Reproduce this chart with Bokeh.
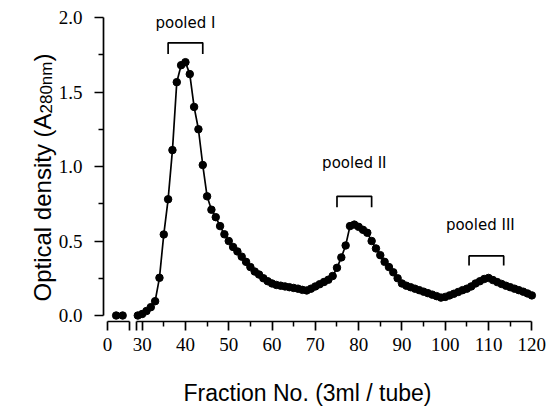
import numpy as np
from bokeh.plotting import figure
from bokeh.models import (LinearAxis, FixedTicker, PrintfTickFormatter, Label, Range1d)
from bokeh.core.properties import value
from bokeh.embed import file_html
from bokeh.resources import INLINE

# ---------------- data ----------------
fractions = [2, 3.5] + list(range(29, 121))
absorbance = [
    0.0, 0.0,                                                   # first segment
    0.0, 0.01, 0.03, 0.056, 0.096, 0.253, 0.544, 0.78, 1.11, 1.566,   # 29-38
    1.68, 1.70, 1.62, 1.40, 1.25, 1.01, 0.80, 0.71, 0.66, 0.60,       # 39-48
    0.545, 0.50, 0.46, 0.43, 0.395, 0.36, 0.325, 0.295, 0.275, 0.25,  # 49-58
    0.23, 0.215, 0.205, 0.20, 0.195, 0.19, 0.185, 0.18, 0.172, 0.168, # 59-68
    0.18, 0.195, 0.21, 0.225, 0.24, 0.265, 0.32, 0.39, 0.47, 0.60,    # 69-78
    0.61, 0.595, 0.575, 0.555, 0.50, 0.45, 0.405, 0.36, 0.325, 0.29,  # 79-88
    0.25, 0.215, 0.20, 0.19, 0.18, 0.17, 0.16, 0.15, 0.14, 0.13,      # 89-98
    0.12, 0.125, 0.135, 0.146, 0.158, 0.17, 0.18, 0.195, 0.215, 0.23, # 99-108
    0.245, 0.252, 0.238, 0.224, 0.212, 0.20, 0.19, 0.18, 0.17, 0.16,  # 109-118
    0.148, 0.135,                                               # 119-120
]
x_tick_labels = [0, 30, 40, 50, 60, 70, 80, 90, 100, 110, 120]
x_minor_labels = [35, 45, 55, 65, 75, 85, 95, 105, 115]
y_ticks = [0.0, 0.5, 1.0, 1.5, 2.0]
y_minor = [0.25, 0.75, 1.25, 1.75]

pool_names = ["pooled I", "pooled II", "pooled III"]
pool_start = [36, 75, 105.5]
pool_end = [44, 83, 113.5]
pool_top = [1.83, 0.80, 0.40]
pool_leg = [1.755, 0.727, 0.336]
pool_label_x = [40, 79, 108.1]
pool_label_y = [1.965, 1.025, 0.61]

# broken x axis: segment 0-5 and segment ~28.6-120
SEG1_END = 5
SEG2_START = 28.6
BREAK_SHIFT = 22


def fx(f):
    return f if f <= SEG1_END else f - BREAK_SHIFT


# ---------------- layout (pixels) ----------------
W, H = 547, 406
PXX, X0_PIX = 4.33, 107.0    # px per fraction, pixel of x = 0
PXY, Y0_PIX = 149.0, 315.0   # px per A unit, pixel of y = 0


def dx(pix):
    return (pix - X0_PIX) / PXX


def dy(pix):
    return (Y0_PIX - pix) / PXY


px = np.array([fx(f) for f in fractions], dtype=float)
vals = np.array(absorbance)
fr = np.array(fractions)

p = figure(width=W, height=H, output_backend="svg", toolbar_location=None,
           x_range=Range1d(dx(0), dx(W)), y_range=Range1d(dy(H), dy(0)),
           x_axis_location=None, y_axis_location=None,
           min_border=0)
p.background_fill_color = "white"
p.border_fill_color = "white"
p.outline_line_color = None
p.grid.visible = False

# data line + dots
for mask in (fr <= SEG1_END, fr > SEG1_END):
    p.line(px[mask], vals[mask], line_color="black", line_width=1.7)
p.scatter(px, vals, size=7.5, fill_color="black", line_color="black", marker="circle")

# pooled brackets
xs = [[fx(a), fx(a), fx(b), fx(b)] for a, b in zip(pool_start, pool_end)]
ys = [[lg, tp, tp, lg] for tp, lg in zip(pool_top, pool_leg)]
p.multi_line(xs, ys, line_color="black", line_width=1.7)
p.text(x=[fx(v) for v in pool_label_x], y=pool_label_y, text=pool_names,
       text_font=value("DejaVu Sans"), text_font_size="15px",
       text_align="center", text_baseline="alphabetic", text_color="black")

serif = "Liberation Serif"
sans = "Liberation Sans"


def style(ax, standoff):
    ax.axis_line_color = "black"
    ax.axis_line_width = 1.7
    ax.major_tick_line_color = "black"
    ax.major_tick_line_width = 1.7
    ax.minor_tick_line_color = "black"
    ax.minor_tick_line_width = 1.5
    ax.major_tick_in = 0
    ax.major_tick_out = 9
    ax.minor_tick_in = 0
    ax.minor_tick_out = 5
    ax.major_label_text_font = serif
    ax.major_label_text_font_size = "19px"
    ax.major_label_text_color = "black"
    ax.major_label_standoff = standoff


X_AXIS_Y = dy(321)
Y_AXIS_X = dx(103)

# y axis
ya = LinearAxis(fixed_location=Y_AXIS_X, bounds=(0, 2),
                ticker=FixedTicker(ticks=y_ticks, minor_ticks=y_minor),
                formatter=PrintfTickFormatter(format="%.1f"))
style(ya, 12)
p.add_layout(ya, "left")

# main x axis (second segment)
main_ticks = [fx(SEG2_START)] + [fx(t) for t in x_tick_labels[1:]]
overrides = {fx(t): str(t) for t in x_tick_labels[1:]}
overrides[fx(SEG2_START)] = ""
xa = LinearAxis(fixed_location=X_AXIS_Y, bounds=(fx(SEG2_START), fx(120)),
                ticker=FixedTicker(ticks=main_ticks,
                                   minor_ticks=[fx(t) for t in x_minor_labels]),
                major_label_overrides=overrides)
style(xa, 7)
p.add_layout(xa, "below")

# short first x-axis segment
xb = LinearAxis(fixed_location=X_AXIS_Y, bounds=(0, SEG1_END),
                ticker=FixedTicker(ticks=[0, SEG1_END], minor_ticks=[]),
                major_label_overrides={0: "0", SEG1_END: ""})
style(xb, 7)
p.add_layout(xb, "below")

# x axis title
p.add_layout(Label(x=dx(307), y=dy(392), text="Fraction No. (3ml / tube)",
                   text_font=sans, text_font_size="23px", text_align="center",
                   text_baseline="middle", text_color="black"))

# y axis title with subscript
y_start = dy(301)
main_w = 188 / PXY
sub_w = 52 / PXY
base_x = dx(42)
p.add_layout(Label(x=base_x, y=y_start, text="Optical density (A", angle=90,
                   angle_units="deg", text_font=sans, text_font_size="24px",
                   text_align="left", text_baseline="alphabetic", text_color="black"))
p.add_layout(Label(x=base_x + 4 / PXX, y=y_start + main_w, text="280nm", angle=90,
                   angle_units="deg", text_font=sans, text_font_size="17px",
                   text_align="left", text_baseline="alphabetic", text_color="black"))
p.add_layout(Label(x=base_x, y=y_start + main_w + sub_w, text=")", angle=90,
                   angle_units="deg", text_font=sans, text_font_size="24px",
                   text_align="left", text_baseline="alphabetic", text_color="black"))

open("out.html", "w").write(file_html(p, INLINE))
